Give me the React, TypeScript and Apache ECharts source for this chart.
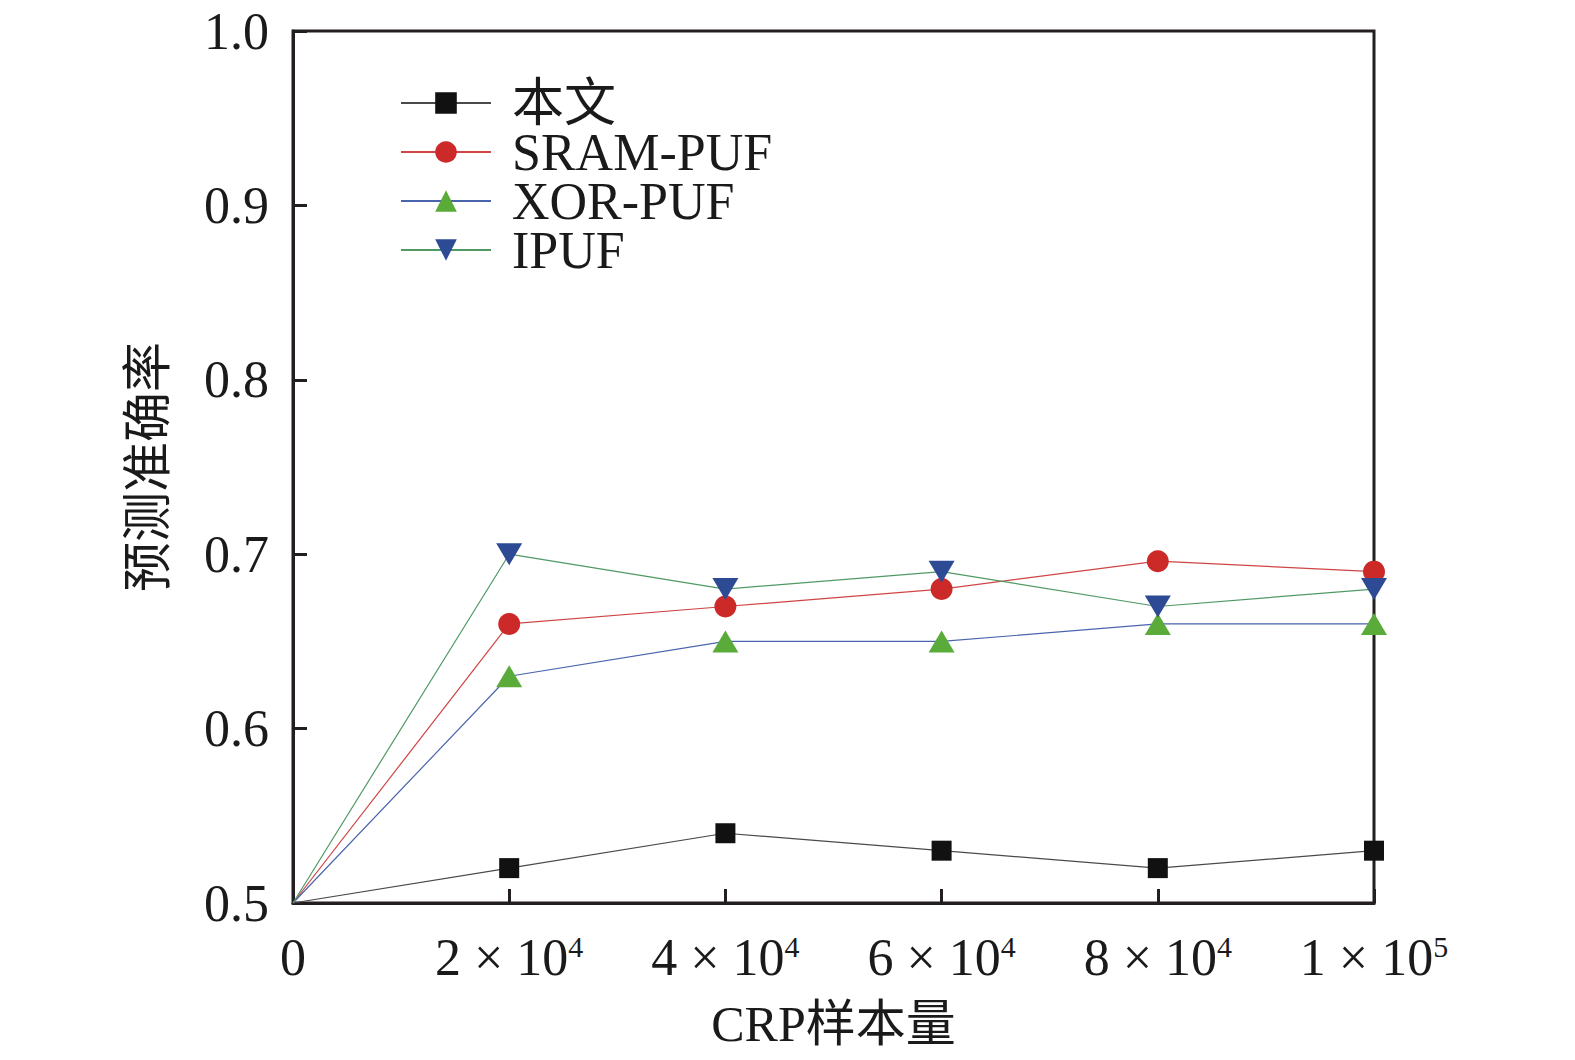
import * as echarts from 'echarts';
import React, { useEffect, useRef } from 'react';

const xValues = [0, 20000, 40000, 60000, 80000, 100000];
const seriesNames = ['本文', 'SRAM-PUF', 'XOR-PUF', 'IPUF'];
const oursData = [0.5, 0.52, 0.54, 0.53, 0.52, 0.53];
const sramData = [0.5, 0.66, 0.67, 0.68, 0.696, 0.69];
const xorData = [0.5, 0.63, 0.65, 0.65, 0.66, 0.66];
const ipufData = [0.5, 0.7, 0.68, 0.69, 0.67, 0.68];
const xTickLabels = ['0', '2|4', '4|4', '6|4', '8|4', '1|5'];

const FONT = 'Liberation Serif, Times New Roman, Noto Sans CJK SC, serif';

const App: React.FC = () => {
  const chartRef = useRef<HTMLDivElement>(null);

  useEffect(() => {
    if (!chartRef.current) return;
    const chart = echarts.init(chartRef.current, undefined, { renderer: 'svg' });

    // 第一个点（原点处）不画标记
    const toPoints = (vals: number[]) =>
      vals.map((v, i) => (i === 0 ? { value: [xValues[i], v], symbolSize: 0 } : [xValues[i], v]));

    const makeSeries = (
      name: string,
      vals: number[],
      symbol: string,
      symbolSize: number | number[],
      markerColor: string,
      lineColor: string,
      rotate = 0,
    ) => ({
      name,
      type: 'line',
      data: toPoints(vals),
      symbol,
      symbolSize,
      symbolRotate: rotate,
      showAllSymbol: true,
      clip: false,
      itemStyle: { color: markerColor, opacity: 1 },
      lineStyle: { color: lineColor, width: 1.2 },
      z: 3,
    });

    const option: any = {
      animation: false,
      backgroundColor: '#fff',
      grid: {
        left: 293,
        top: 31,
        width: 1081,
        height: 872,
        show: true,
        borderColor: '#231f20',
        borderWidth: 3,
      },
      legend: {
        orient: 'vertical',
        left: 395,
        top: 72,
        itemWidth: 90,
        itemHeight: 27,
        itemGap: -3,
        data: seriesNames,
        textStyle: {
          fontFamily: FONT,
          fontSize: 52,
          lineHeight: 50,
          color: '#1a1a1a',
          padding: [0, 0, 0, 16],
        },
      },
      xAxis: {
        type: 'value',
        min: 0,
        max: 100000,
        interval: 20000,
        name: 'CRP样本量',
        nameLocation: 'middle',
        nameGap: 96,
        nameTextStyle: { fontFamily: FONT, fontSize: 50, color: '#1a1a1a' },
        axisLine: { show: true, lineStyle: { color: '#231f20', width: 3 } },
        axisTick: { show: true, inside: true, length: 14, lineStyle: { color: '#231f20', width: 3 } },
        splitLine: { show: false },
        axisLabel: {
          margin: 28,
          fontFamily: FONT,
          fontSize: 52,
          color: '#1a1a1a',
          formatter: (v: number) => {
            const idx = xValues.indexOf(v);
            const lab = idx >= 0 ? xTickLabels[idx] : '';
            if (!lab.includes('|')) return lab;
            const [m, e] = lab.split('|');
            return `{n|${m} × 10}{s|${e}}`;
          },
          rich: {
            n: { fontFamily: FONT, fontSize: 52, color: '#1a1a1a' },
            s: { fontFamily: FONT, fontSize: 30, color: '#1a1a1a', verticalAlign: 'top', padding: [0, 0, 22, 0] },
          },
        },
      },
      yAxis: {
        type: 'value',
        min: 0.5,
        max: 1.0,
        interval: 0.1,
        name: '预测准确率',
        nameLocation: 'middle',
        nameGap: 120,
        nameTextStyle: { fontFamily: FONT, fontSize: 50, color: '#1a1a1a' },
        axisLine: { show: true, lineStyle: { color: '#231f20', width: 3 } },
        axisTick: { show: true, inside: true, length: 14, lineStyle: { color: '#231f20', width: 3 } },
        splitLine: { show: false },
        axisLabel: {
          margin: 24,
          fontFamily: FONT,
          fontSize: 52,
          color: '#1a1a1a',
          formatter: (v: number) => v.toFixed(1),
        },
      },
      series: [
        makeSeries(seriesNames[0], oursData, 'rect', 20, '#111111', '#4a4a4a'),
        makeSeries(seriesNames[1], sramData, 'circle', 22, '#cc2a29', '#d04545'),
        makeSeries(seriesNames[2], xorData, 'triangle', [26, 22], '#5aab3a', '#4a64ae'),
        makeSeries(seriesNames[3], ipufData, 'triangle', [26, 22], '#2d4a94', '#4f9a64', 180),
      ],
    };

    chart.setOption(option);

    return () => {
      chart.dispose();
    };
  }, []);

  return (
    <div
      ref={chartRef}
      style={{ position: 'fixed', left: 0, top: 0, width: '1575px', height: '1060px' }}
    />
  );
};

export default App;
